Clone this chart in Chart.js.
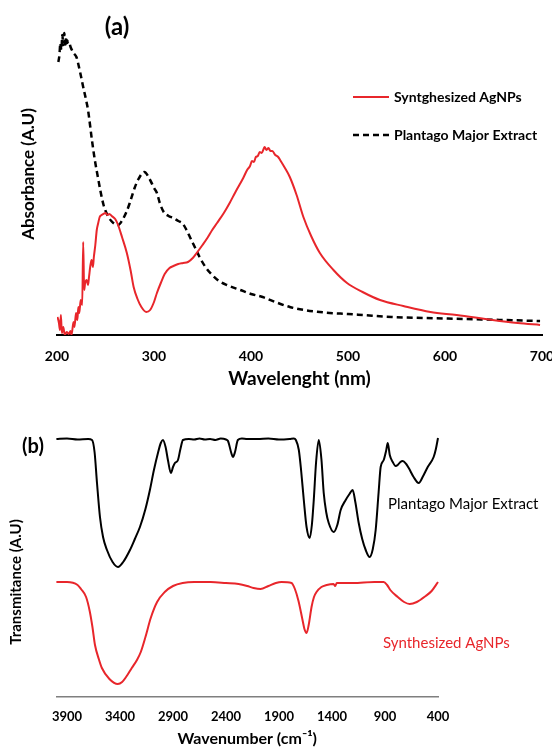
<!DOCTYPE html>
<html><head><meta charset="utf-8">
<script src="https://cdn.jsdelivr.net/npm/chart.js@4/dist/chart.umd.min.js"></script>
<style>
html,body{margin:0;padding:0;background:#fff;overflow:hidden;width:552px;height:747px;}
#wrapA{position:absolute;left:0;top:0;width:552px;height:400px;overflow:hidden}
#wrapB{position:absolute;left:0;top:400px;width:552px;height:347px;overflow:hidden}
canvas{display:block}
</style></head><body>
<div id="wrapA"><canvas id="cA" width="570" height="400"></canvas></div>
<div id="wrapB"><canvas id="cB" width="552" height="347"></canvas></div>
<script>
// ---------- Panel (a): UV-Vis ----------
const uvTicks = [200, 300, 400, 500, 600, 700];
const uvSeriesNames = ['Syntghesized AgNPs', 'Plantago Major Extract'];
const uvAgWavelength = [200.5,202,203,204,205,206.5,208,210,212,214,215,217,218,219.6,221,222,223,224.4,226,227,228,229,230.6,232,233,234.5,235.7,237,238,239.5,241,242.5,244,246,247.7,250,252,254,256.4,260,263,267,272,276,279,283,287,292,296,300,303,307,311,316,320,325,330,335,340,344,350,355,360,365,372,378,384,388,392,396,399,401,403,405,407,409,411,413,414,416,418,420,422,425,428,430,435,440,447,454,462,471,485,499,515,533,557,585,612,649,675,698];
const uvAgAbsorbance = [0.18,0.12,0.05,0.20,0.02,0.08,0.00,0.03,0.01,0.04,0.00,0.13,0.08,0.22,0.15,0.28,0.22,0.35,0.30,0.93,0.45,0.52,0.55,0.50,0.58,0.70,0.75,0.68,0.78,0.90,1.05,1.12,1.18,1.20,1.21,1.22,1.20,1.21,1.19,1.16,1.10,0.98,0.82,0.64,0.48,0.36,0.28,0.23,0.25,0.33,0.42,0.52,0.61,0.67,0.69,0.71,0.72,0.73,0.77,0.82,0.90,0.97,1.05,1.12,1.22,1.32,1.43,1.50,1.57,1.65,1.69,1.74,1.73,1.78,1.79,1.83,1.82,1.86,1.88,1.85,1.87,1.84,1.84,1.80,1.78,1.75,1.67,1.58,1.40,1.18,0.99,0.82,0.65,0.52,0.43,0.35,0.29,0.23,0.20,0.15,0.12,0.10];
const uvPmWavelength = [201.4,202.5,203.5,204.5,205.5,206.5,207.5,208.5,209.5,210.5,212,214,217,220,224,227,230,232,236,239,242.5,245,248,251,256,263,268,272,275,280,284,290,296,300,303,306,310,315,320,325,329,333,337,342,347,353,360,367,375,389,400,412,425,440,455,471,481,500,515,545,577,620,660,698];
const uvPmAbsorbance = [2.73,2.80,2.92,2.85,3.00,2.90,3.02,2.88,2.98,2.92,2.94,2.88,2.82,2.78,2.62,2.48,2.35,2.25,1.95,1.75,1.56,1.43,1.30,1.22,1.14,1.10,1.16,1.24,1.32,1.47,1.56,1.63,1.55,1.47,1.42,1.32,1.23,1.19,1.17,1.14,1.12,1.06,0.98,0.88,0.78,0.68,0.60,0.54,0.50,0.45,0.41,0.38,0.33,0.28,0.25,0.23,0.22,0.21,0.20,0.18,0.17,0.16,0.15,0.14];

// ---------- Panel (b): FTIR ----------
const irTicks = [3900, 3400, 2900, 2400, 1900, 1400, 900, 400];
const irSeriesNames = ['Plantago Major Extract', 'Synthesized AgNPs'];
const irPmWavenumber = [4000,3900,3800,3700,3664,3640,3617,3589,3560,3523,3470,3419,3370,3306,3260,3212,3160,3118,3080,3042,3015,2995,2970,2948,2920,2900,2882,2853,2830,2806,2750,2700,2650,2600,2550,2500,2450,2400,2381,2350,2335,2315,2288,2250,2200,2100,2000,1900,1800,1760,1741,1713,1690,1666,1640,1610,1590,1572,1550,1525,1500,1478,1455,1431,1384,1350,1318,1271,1235,1205,1180,1148,1115,1082,1045,1015,988,960,941,912,890,874,855,827,800,780,755,733,700,676,630,582,540,497,441,420,400];
const irPmTransmittance = [2.58,2.585,2.575,2.58,2.57,2.45,2.14,1.80,1.60,1.47,1.35,1.30,1.35,1.47,1.58,1.70,1.88,2.07,2.27,2.44,2.54,2.57,2.50,2.37,2.24,2.30,2.34,2.37,2.48,2.57,2.58,2.575,2.585,2.575,2.58,2.57,2.585,2.575,2.56,2.44,2.40,2.45,2.57,2.585,2.58,2.58,2.585,2.575,2.58,2.585,2.57,2.47,2.25,1.97,1.70,1.59,1.72,1.97,2.35,2.57,2.38,2.04,1.85,1.74,1.65,1.72,1.87,1.97,2.03,2.07,1.95,1.74,1.58,1.47,1.40,1.48,1.67,2.05,2.30,2.37,2.46,2.54,2.42,2.35,2.31,2.32,2.35,2.36,2.33,2.29,2.20,2.14,2.21,2.30,2.40,2.48,2.59];
const irAgWavenumber = [4000,3900,3800,3768,3720,3686,3660,3636,3600,3571,3500,3421,3380,3330,3289,3240,3204,3160,3110,3050,2978,2900,2809,2700,2545,2400,2281,2200,2140,2074,2000,1930,1876,1782,1750,1716,1680,1660,1640,1620,1593,1570,1546,1500,1450,1385,1370,1355,1200,1000,913,880,850,780,720,667,600,516,460,400];
const irAgTransmittance = [1.15,1.15,1.12,1.08,1.00,0.86,0.70,0.52,0.38,0.29,0.18,0.13,0.15,0.22,0.29,0.37,0.45,0.60,0.79,0.95,1.05,1.11,1.14,1.15,1.15,1.14,1.13,1.11,1.09,1.08,1.11,1.14,1.15,1.14,1.08,0.96,0.78,0.68,0.64,0.72,0.90,1.00,1.05,1.10,1.12,1.13,1.11,1.14,1.14,1.15,1.15,1.12,1.07,1.00,0.95,0.93,0.95,1.01,1.06,1.15];

const RED = '#e8262b';
const FONT = 'Lato, "Open Sans", sans-serif';
const pts = (xs, ys) => xs.map((x, i) => ({x: x, y: ys[i]}));
const plainTick = v => String(v);

const panelAnnot = {
  id: 'panelAnnot',
  afterDraw(chart, args, o) {
    const ctx = chart.ctx;
    ctx.save();
    ctx.textBaseline = 'middle';
    (o.texts || []).forEach(t => {
      const ds = t.datasetIndex !== undefined ? chart.data.datasets[t.datasetIndex] : null;
      ctx.font = t.font;
      ctx.fillStyle = ds ? ds.borderColor : (t.color || '#000');
      ctx.textAlign = t.align || 'left';
      ctx.fillText(ds ? ds.label : t.text, t.x, t.y);
    });
    (o.legend || []).forEach(l => {
      const ds = chart.data.datasets[l.index];
      ctx.strokeStyle = ds.borderColor;
      ctx.lineWidth = ds.borderWidth;
      ctx.setLineDash(ds.borderDash || []);
      ctx.beginPath(); ctx.moveTo(l.x, l.y); ctx.lineTo(l.x + l.w, l.y); ctx.stroke();
      ctx.setLineDash([]);
      ctx.font = l.font; ctx.fillStyle = '#000'; ctx.textAlign = 'left';
      ctx.fillText(ds.label, l.x + l.w + l.gap, l.y);
    });
    ctx.restore();
  }
};

new Chart(document.getElementById('cA'), {
  type: 'line',
  data: { datasets: [
    { label: uvSeriesNames[0], data: pts(uvAgWavelength, uvAgAbsorbance), borderColor: RED, borderWidth: 2, pointRadius: 0, cubicInterpolationMode: 'monotone', fill: false },
    { label: uvSeriesNames[1], data: pts(uvPmWavelength, uvPmAbsorbance), borderColor: '#000', borderWidth: 2.5, borderDash: [6, 4], pointRadius: 0, cubicInterpolationMode: 'monotone', fill: false }
  ]},
  plugins: [panelAnnot],
  options: {
    responsive: false, animation: false, devicePixelRatio: 1,
    layout: { padding: { left: 18, right: 28, top: 13, bottom: 10 } },
    plugins: {
      legend: { display: false }, tooltip: { enabled: false },
      panelAnnot: {
        texts: [{ text: '(a)', x: 117, y: 27, font: 'bold 24px ' + FONT, align: 'center' }],
        legend: [
          { index: 0, x: 353, y: 97, w: 36, gap: 5, font: 'bold 14px ' + FONT },
          { index: 1, x: 353, y: 135, w: 36, gap: 5, font: 'bold 14px ' + FONT }
        ]
      }
    },
    scales: {
      x: {
        type: 'linear', min: 200, max: 700,
        afterBuildTicks(s) { s.ticks = uvTicks.map(v => ({ value: v })); },
        ticks: { callback: plainTick, font: { family: FONT, size: 14, weight: 'bold' }, color: '#000', padding: 13, maxRotation: 0, autoSkip: false },
        grid: { display: false, drawTicks: false },
        border: { display: true, color: '#000', width: 2 },
        title: { display: true, text: 'Wavelenght (nm)', font: { family: FONT, size: 19, weight: 'bold' }, color: '#000', padding: { top: 0, bottom: 0 } },
        afterFit(s) { s.height = 55; }
      },
      y: {
        type: 'linear', min: 0, max: 3.22,
        ticks: { display: false },
        grid: { display: false, drawTicks: false },
        border: { display: false },
        title: { display: true, text: 'Absorbance (A.U)', font: { family: FONT, size: 17, weight: 'bold' }, color: '#000', padding: { top: 0, bottom: 0 } },
        afterFit(s) { s.width = 39; }
      }
    }
  }
});

new Chart(document.getElementById('cB'), {
  type: 'line',
  data: { datasets: [
    { label: irSeriesNames[0], data: pts(irPmWavenumber, irPmTransmittance), borderColor: '#000', borderWidth: 2, pointRadius: 0, cubicInterpolationMode: 'monotone', fill: false, clip: false },
    { label: irSeriesNames[1], data: pts(irAgWavenumber, irAgTransmittance), borderColor: RED, borderWidth: 2, pointRadius: 0, cubicInterpolationMode: 'monotone', fill: false, clip: false }
  ]},
  plugins: [panelAnnot],
  options: {
    responsive: false, animation: false, devicePixelRatio: 1,
    layout: { padding: { left: 7, right: 114, top: 67, bottom: 0 } },
    plugins: {
      legend: { display: false }, tooltip: { enabled: false },
      panelAnnot: {
        texts: [
          { text: '(b)', x: 33, y: 47, font: 'bold 20px ' + FONT, align: 'center' },
          { datasetIndex: 0, x: 388, y: 104, font: '15px ' + FONT, align: 'left' },
          { datasetIndex: 1, x: 383, y: 243, font: '15px ' + FONT, align: 'left' }
        ]
      }
    },
    scales: {
      x: {
        type: 'linear', min: 400, max: 4000, reverse: true,
        afterBuildTicks(s) { s.ticks = irTicks.map(v => ({ value: v })); },
        ticks: { callback: plainTick, font: { family: FONT, size: 13, weight: 'bold' }, color: '#000', padding: 12, maxRotation: 0, autoSkip: false },
        grid: { display: false, drawTicks: false },
        border: { display: true, color: '#7f7f7f', width: 1.5 },
        title: { display: true, text: 'Wavenumber (cm⁻¹)', font: { family: FONT, size: 16, weight: 'bold', lineHeight: 1 }, color: '#000', padding: { top: 0, bottom: 0 } },
        afterFit(s) { s.height = 50; }
      },
      y: {
        type: 'linear', min: 0, max: 2.30,
        ticks: { display: false },
        grid: { display: false, drawTicks: false },
        border: { display: false },
        title: { display: true, text: 'Transmitance (A.U)', font: { family: FONT, size: 15, weight: 'bold' }, color: '#000', padding: { top: 0, bottom: 0 } },
        afterFit(s) { s.width = 49.4; }
      }
    }
  }
});
</script>
</body></html>
